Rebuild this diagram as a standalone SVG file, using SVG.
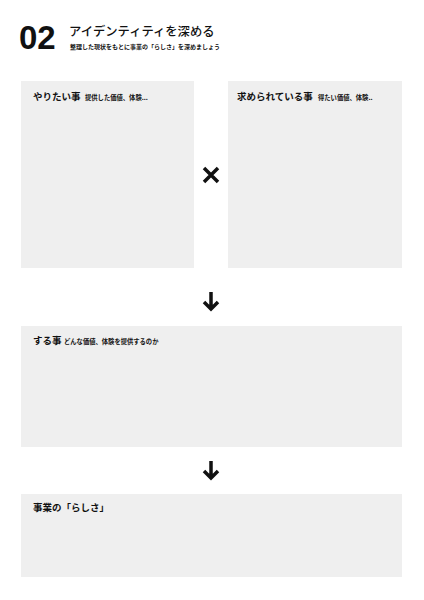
<svg xmlns="http://www.w3.org/2000/svg" width="424" height="600" viewBox="0 0 424 600">
<style>
.box{fill:#efefef}
.t{font-family:"Noto Sans CJK JP","Liberation Sans",sans-serif;fill:#111}
.h{font-size:9.5px;font-weight:700}
.s{font-size:6.3px;font-weight:700}
.ic{stroke:#111;fill:none;stroke-width:3.5}
</style>
<rect width="424" height="600" fill="#fff"/>
<g id="header">
<text class="t" x="19" y="49" style="font-family:'Liberation Sans',sans-serif;font-size:33px;font-weight:700">02</text>
<text class="t" x="69" y="36" style="font-size:12.3px;font-weight:500">アイデンティティを深める</text>
<text class="t" x="70" y="49" style="font-size:6px;font-weight:700">整理した現状をもとに事業の「らしさ」を深めましょう</text>
</g>
<g id="want">
<rect class="box" x="21" y="81" width="173" height="187"/>
<text class="t h" x="33" y="100">やりたい事</text>
<text class="t s" x="85" y="100">提供した価値、体験...</text>
</g>
<g id="needed">
<rect class="box" x="228" y="81" width="174" height="187"/>
<text class="t h" x="237" y="100">求められている事</text>
<text class="t s" x="318" y="100">得たい価値、体験..</text>
</g>
<g id="do">
<rect class="box" x="21" y="326" width="381" height="121"/>
<text class="t h" x="33" y="344">する事</text>
<text class="t s" x="64" y="344">どんな価値、体験を提供するのか</text>
</g>
<g id="rashisa">
<rect class="box" x="21" y="494" width="381" height="83"/>
<text class="t h" x="33" y="511">事業の「らしさ」</text>
</g>
<g id="connectors">
<path class="ic" d="M204 168 L218 182 M218 168 L204 182" stroke-width="4.5"/>
<path class="ic" d="M211 292 L211 309 M204 302 L211 309 L218 302" stroke-width="3"/>
<path class="ic" d="M211 461 L211 478 M204 471 L211 478 L218 471" stroke-width="3"/>
</g>
</svg>
